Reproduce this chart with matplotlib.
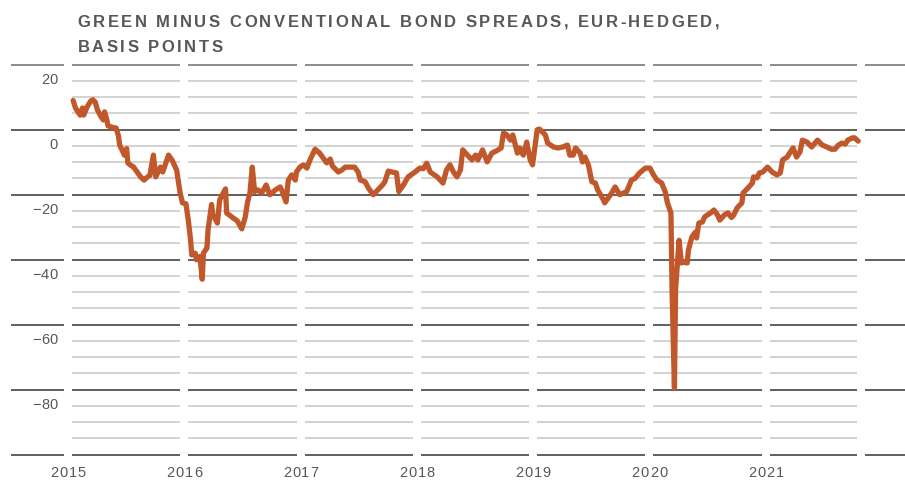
import matplotlib
matplotlib.use("Agg")
import matplotlib.pyplot as plt
from matplotlib import font_manager
from matplotlib.ft2font import FT2Font
from matplotlib.font_manager import FontProperties
from matplotlib.transforms import IdentityTransform

# ---------------- data ----------------
title_lines = ["GREEN MINUS CONVENTIONAL BOND SPREADS, EUR-HEDGED,", "BASIS POINTS"]
years = [2015, 2016, 2017, 2018, 2019, 2020, 2021]
y_tick_values = [20, 0, -20, -40, -60, -80]
major_grid = [25, 5, -15, -35, -55, -75, -95]
minor_grid = [20, 15, 10, 0, -5, -10, -20, -25, -30, -40, -45, -50,
              -60, -65, -70, -80, -85, -90]

dates = [2015.01, 2015.03, 2015.07, 2015.09, 2015.10, 2015.13, 2015.16, 2015.18, 2015.20, 2015.22,
         2015.25, 2015.27, 2015.28, 2015.30, 2015.31, 2015.34, 2015.38, 2015.40, 2015.41, 2015.43,
         2015.45, 2015.47, 2015.48, 2015.50, 2015.53, 2015.56, 2015.59, 2015.62, 2015.64, 2015.67,
         2015.70, 2015.72, 2015.76, 2015.78, 2015.83, 2015.86, 2015.90, 2015.93, 2015.95, 2015.98,
         2016.00, 2016.02, 2016.03, 2016.06, 2016.07, 2016.10, 2016.12, 2016.13, 2016.16, 2016.17,
         2016.20, 2016.21, 2016.25, 2016.27, 2016.30, 2016.32, 2016.33, 2016.38, 2016.42, 2016.46,
         2016.49, 2016.51, 2016.53, 2016.55, 2016.57, 2016.60, 2016.63, 2016.67, 2016.70, 2016.75,
         2016.79, 2016.81, 2016.84, 2016.86, 2016.89, 2016.92, 2016.93, 2016.96, 2016.99, 2017.02,
         2017.05, 2017.09, 2017.13, 2017.16, 2017.19, 2017.22, 2017.24, 2017.29, 2017.32, 2017.35,
         2017.39, 2017.43, 2017.46, 2017.48, 2017.52, 2017.55, 2017.59, 2017.63, 2017.67, 2017.69,
         2017.72, 2017.75, 2017.79, 2017.81, 2017.85, 2017.89, 2017.95, 2017.99, 2018.02, 2018.05,
         2018.08, 2018.14, 2018.19, 2018.22, 2018.25, 2018.28, 2018.31, 2018.34, 2018.36, 2018.40,
         2018.44, 2018.47, 2018.49, 2018.53, 2018.57, 2018.61, 2018.65, 2018.69, 2018.71, 2018.74,
         2018.77, 2018.79, 2018.83, 2018.85, 2018.88, 2018.91, 2018.94, 2018.96, 2019.00, 2019.02,
         2019.07, 2019.09, 2019.14, 2019.18, 2019.22, 2019.26, 2019.28, 2019.31, 2019.33, 2019.37,
         2019.39, 2019.41, 2019.44, 2019.47, 2019.50, 2019.52, 2019.57, 2019.58, 2019.61, 2019.64,
         2019.67, 2019.71, 2019.77, 2019.81, 2019.84, 2019.88, 2019.93, 2019.97, 2020.00, 2020.03,
         2020.07, 2020.10, 2020.12, 2020.15, 2020.16, 2020.18, 2020.19, 2020.22, 2020.24, 2020.25,
         2020.29, 2020.30, 2020.33, 2020.36, 2020.37, 2020.39, 2020.42, 2020.44, 2020.49, 2020.52,
         2020.55, 2020.57, 2020.61, 2020.64, 2020.67, 2020.69, 2020.72, 2020.76, 2020.77, 2020.81,
         2020.85, 2020.86, 2020.89, 2020.91, 2020.94, 2020.98, 2021.02, 2021.06, 2021.09, 2021.11,
         2021.15, 2021.17, 2021.20, 2021.23, 2021.26, 2021.28, 2021.32, 2021.36, 2021.41, 2021.45,
         2021.49, 2021.53, 2021.56, 2021.59, 2021.62, 2021.65, 2021.67, 2021.71, 2021.73, 2021.76]

spread = [14.0, 11.7, 9.5, 11.7, 9.5, 12.0, 13.8, 14.2, 13.5, 11.0,
          9.0, 8.0, 10.5, 8.0, 6.2, 5.8, 5.5, 3.0, 0.3, -1.2,
          -2.8, -0.8, -5.2, -5.8, -6.5, -8.0, -9.5, -10.5, -9.8, -9.0,
          -2.8, -9.5, -6.5, -8.0, -2.8, -4.3, -7.4, -14.5, -17.5, -17.8,
          -22.8, -29.0, -33.5, -33.0, -35.0, -34.0, -41.0, -33.0, -31.4, -25.8,
          -18.0, -21.0, -23.7, -16.6, -14.5, -13.2, -20.6, -22.0, -23.0, -25.5,
          -21.8, -17.2, -14.5, -6.5, -14.0, -13.5, -14.5, -12.0, -15.0, -13.5,
          -12.6, -14.1, -17.2, -10.5, -8.9, -10.5, -8.0, -6.5, -5.8, -6.8,
          -4.0, -1.0, -2.2, -3.7, -5.2, -4.0, -6.2, -8.0, -7.4, -6.5,
          -6.5, -6.5, -8.0, -10.5, -11.0, -13.0, -15.0, -13.5, -12.0, -11.0,
          -7.7, -8.0, -8.3, -14.0, -12.0, -9.5, -8.0, -6.8, -7.0, -5.3,
          -8.0, -9.5, -11.4, -7.4, -5.8, -8.0, -9.5, -7.4, -1.2, -2.8,
          -4.3, -2.8, -4.3, -1.2, -4.9, -2.2, -1.5, -0.6, 4.0, 3.4,
          1.8, 3.4, -2.2, -0.6, -2.8, 1.2, -4.3, -5.8, 5.0, 5.2,
          3.4, 0.9, -0.3, -0.6, -0.3, 0.3, -2.8, -2.8, -0.6, -2.2,
          -4.9, -3.4, -5.8, -11.0, -11.4, -13.5, -16.6, -17.5, -16.0, -14.5,
          -12.6, -15.0, -14.0, -10.5, -10.0, -8.3, -6.8, -6.8, -8.9, -10.5,
          -11.4, -14.0, -17.5, -20.6, -45.0, -74.5, -44.0, -29.0, -36.0, -35.7,
          -36.0, -32.0, -28.0, -26.5, -28.3, -23.7, -23.4, -21.8, -20.6, -19.7,
          -21.2, -22.8, -21.2, -20.6, -22.0, -21.2, -19.0, -17.5, -14.5, -13.0,
          -11.4, -9.5, -9.8, -8.3, -8.0, -6.5, -8.0, -8.9, -8.3, -4.3,
          -3.4, -2.2, -0.6, -3.4, -1.8, 1.8, 1.2, -0.3, 1.8, 0.3,
          -0.3, -1.0, -1.0, 0.3, 0.9, 0.6, 1.8, 2.5, 2.5, 1.5]

# ---------------- figure ----------------
W, H, DPI = 905, 484, 100
fig = plt.figure(figsize=(W / DPI, H / DPI), dpi=DPI, facecolor="white")
ax = fig.add_axes([0, 0, 1, 1])
X0, X1 = 2014.381, 2022.1625
ax.set_xlim(X0, X1)
ax.set_ylim(-104.0, 44.92)
ax.axis("off")

gap = 8 / 116.3
label_seg = (2014.4755, years[0] - gap)
data_end = dates[-1] - 0.01
segments = [(y, y + 1 - gap) for y in years[:-1]] + [(years[-1], data_end)]
final_seg = (data_end + gap, X1)

major_col = "#5f5f5f"
top_col = "#8c8c8c"
minor_col = "#c6c6c6"

for v in major_grid:
    c = top_col if v == major_grid[0] else major_col
    for (a, b) in [label_seg] + segments + [final_seg]:
        ax.hlines(v, a, b, color=c, lw=1.4, zorder=1)
for v in minor_grid:
    for (a, b) in segments:
        ax.hlines(v, a, b, color=minor_col, lw=1.1, zorder=1)

ax.plot(dates, spread, color="#c0582b", lw=3.8, solid_joinstyle="round",
        solid_capstyle="round", zorder=3)

# ---------------- text helpers ----------------
fig.canvas.draw()


def tracked(s, x, y, fp, tracking, color, ha="left"):
    font = FT2Font(font_manager.findfont(fp))
    font.set_size(fp.get_size_in_points(), DPI)
    advs = [font.load_char(ord(ch)).linearHoriAdvance / 65536 for ch in s]
    total = sum(advs) + tracking * (len(s) - 1)
    if ha == "right":
        x -= total
    elif ha == "center":
        x -= total / 2
    for ch, a in zip(s, advs):
        if ch != " ":
            fig.text(x, y, ch, transform=IdentityTransform(), fontproperties=fp,
                     color=color, ha="left", va="baseline")
        x += a + tracking


title_fp = FontProperties(family="Liberation Sans", weight="bold", size=12)
tick_fp = FontProperties(family="Liberation Sans", size=10.5)
text_col = "#55575a"

tracked(title_lines[0], 77.5, H - 27, title_fp, 2.5, text_col)
tracked(title_lines[1], 77.5, H - 52, title_fp, 2.5, text_col)

# y tick labels, right-aligned a few px left of the label column end
xr = ax.transData.transform((label_seg[1], 0))[0] - 6
for v in y_tick_values:
    yd = ax.transData.transform((X0, v))[1] - 3
    lab = str(v).replace("-", "\u2212")
    tracked(lab, xr, yd, tick_fp, 0.6, text_col, ha="right")

# x tick labels, centred on the gap before each year
for yr in years:
    xd = ax.transData.transform((yr - gap / 2, 0))[0]
    yd = ax.transData.transform((X0, -95))[1] - 22
    tracked(str(yr), xd, yd, tick_fp, 1.0, text_col, ha="center")

fig.savefig("out.png", dpi=DPI, facecolor="white")
